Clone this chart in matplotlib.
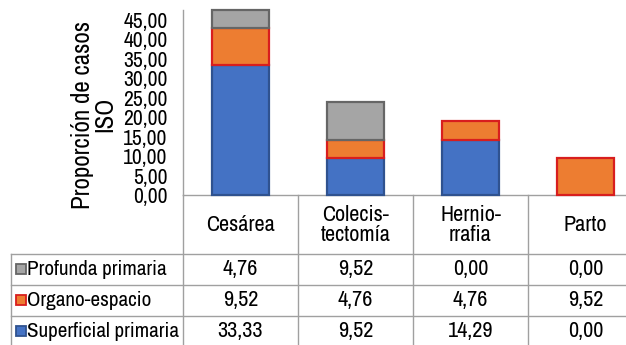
import matplotlib
matplotlib.use("Agg")
import matplotlib.pyplot as plt
import numpy as np

plt.rcParams['font.family'] = ['Archivo Narrow', 'Liberation Sans', 'DejaVu Sans']

categories = ['Cesárea', 'Colecis-\ntectomía', 'Hernio-\nrrafia', 'Parto']
series = ['Superficial primaria', 'Organo-espacio', 'Profunda primaria']
superficial = [33.33, 9.52, 14.29, 0.00]
organo = [9.52, 4.76, 4.76, 9.52]
profunda = [4.76, 9.52, 0.00, 0.00]
yticks = [0, 5, 10, 15, 20, 25, 30, 35, 40, 45]

fills = ['#4472C4', '#ED7D31', '#A5A5A5']
edges = ['#2F528F', '#D81E1E', '#666666']
grid_col = '#A0A0A0'

W, H = 626, 345
fig = plt.figure(figsize=(W / 100, H / 100), dpi=100)

# plot area in pixels (the last category runs past the right edge, as in the original)
x0, x1 = 183, 643
ybase, ytop = 195.3, 10
ax = fig.add_axes([x0 / W, (H - ybase) / H, (x1 - x0) / W, (ybase - ytop) / H])

x = np.arange(len(categories))
bottom = np.zeros(len(categories))
for vals, fc, ec in zip([superficial, organo, profunda], fills, edges):
    v = np.array(vals)
    lw = [1.6 if val > 0 else 0 for val in v]
    ax.bar(x, v, 0.5, bottom=bottom, color=fc, edgecolor=ec, linewidth=lw,
           zorder=3, clip_on=False)
    bottom += v

ax.set_xlim(-0.5, 3.5)
ax.set_ylim(0, 47.5)
ax.set_yticks(yticks)
ax.set_yticklabels([f'{t:.2f}'.replace('.', ',') for t in yticks], fontsize=15.5)
ax.tick_params(axis='y', length=0, pad=11)
ax.set_xticks([])
for s in ['top', 'right']:
    ax.spines[s].set_visible(False)
for s in ['left', 'bottom']:
    ax.spines[s].set_color(grid_col)
    ax.spines[s].set_linewidth(1)
ax.set_ylabel('Proporción de casos\nISO', fontsize=18, linespacing=0.95)
ax.yaxis.set_label_coords(-0.145, 0.435)

# data table under the plot, sharing the category scale
tl = 11
xl = -0.5 - (x0 - tl) / 115.0
rows = [ybase, 254, 285, 316, 347]
tab = fig.add_axes([tl / W, (H - rows[-1]) / H, (x1 - tl) / W, (rows[-1] - ybase) / H])
tab.set_xlim(xl, 3.5)
tab.set_ylim(rows[-1], ybase)
tab.axis('off')

for yy in rows[1:]:
    tab.plot([xl, 3.5], [yy, yy], color=grid_col, lw=1, clip_on=False)
tab.plot([xl, xl], [rows[1], rows[-1]], color=grid_col, lw=1, clip_on=False)
for xv in np.arange(-0.5, 3.0, 1.0):
    tab.plot([xv, xv], [ybase, rows[-1]], color=grid_col, lw=1, clip_on=False)

for i, c in enumerate(categories):
    tab.text(i, (rows[0] + rows[1]) / 2, c, ha='center', va='center',
             fontsize=16, linespacing=1.0)

table_rows = [('Profunda primaria', profunda, 2),
              ('Organo-espacio', organo, 1),
              ('Superficial primaria', superficial, 0)]
px = 1 / 115.0
for r, (name, vals, k) in enumerate(table_rows):
    yc = (rows[r + 1] + rows[r + 2]) / 2
    tab.plot(xl + 9.5 * px, yc, marker='s', ms=7, mfc=fills[k], mec=edges[k], mew=1.3,
             clip_on=False)
    tab.text(xl + 16 * px, yc, name, ha='left', va='center', fontsize=15.2)
    for i, v in enumerate(vals):
        tab.text(i, yc, f'{v:.2f}'.replace('.', ','), ha='center', va='center', fontsize=16)

fig.savefig('out.png', dpi=100)
